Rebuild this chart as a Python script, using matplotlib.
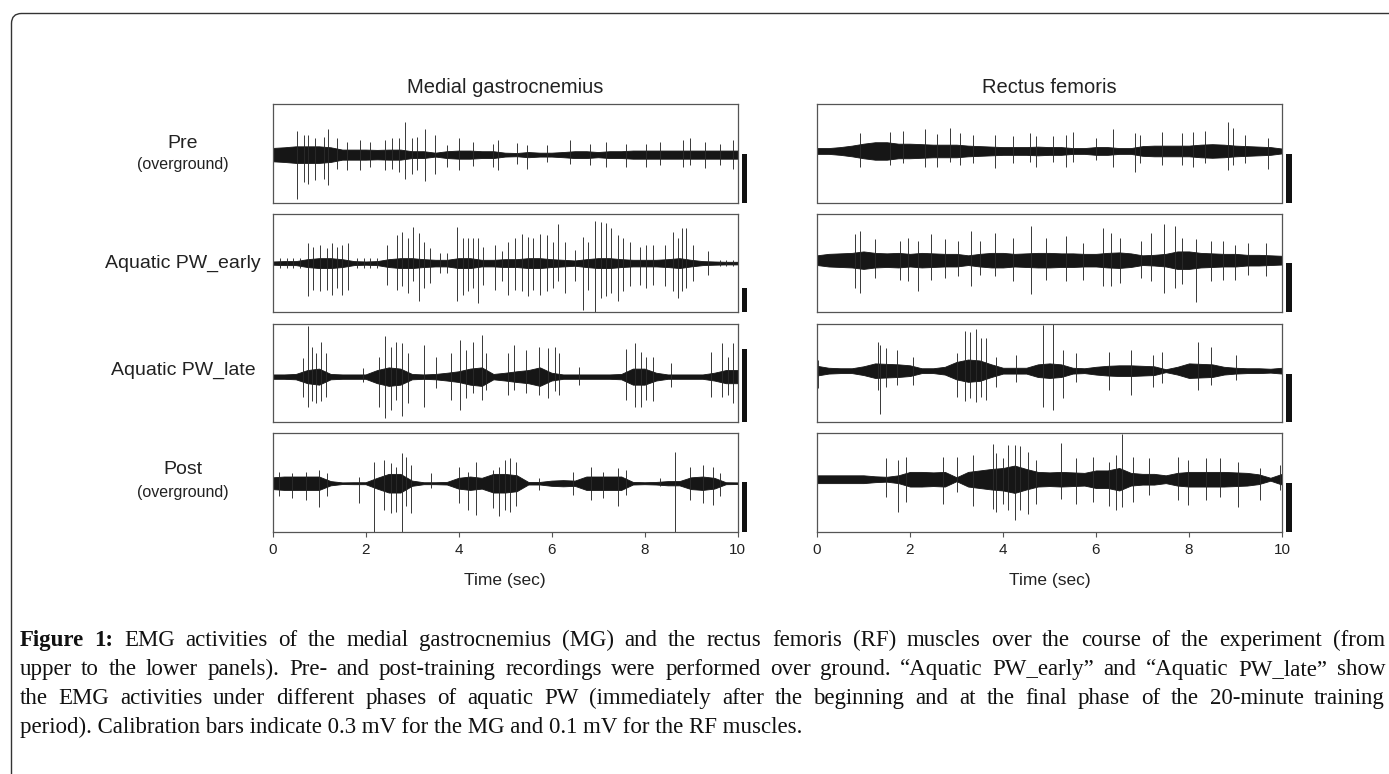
import numpy as np
import matplotlib
matplotlib.use("Agg")
import matplotlib.pyplot as plt
from matplotlib.patches import FancyBboxPatch, Rectangle
from matplotlib.transforms import IdentityTransform, blended_transform_factory

# ---------------- datos (mV) ----------------
# envolvente del nucleo denso, muestreada cada 0.25 s (0 ... 10 s)
env_t = np.arange(0, 10.01, 0.25)

mg_pre_env = [0.041, 0.045, 0.051, 0.051, 0.051, 0.045, 0.031, 0.031, 0.031, 0.029, 0.031, 0.031, 0.021, 0.021,
              0.012, 0.021, 0.025, 0.025, 0.021, 0.021, 0.012, 0.010, 0.016, 0.012, 0.012, 0.016, 0.021, 0.021,
              0.016, 0.021, 0.021, 0.025, 0.025, 0.025, 0.025, 0.025, 0.025, 0.025, 0.025, 0.025, 0.025]
mg_early_env = [0.021, 0.026, 0.026, 0.051, 0.064, 0.064, 0.051, 0.026, 0.021, 0.026, 0.051, 0.064, 0.064, 0.051,
                0.043, 0.043, 0.064, 0.064, 0.043, 0.043, 0.051, 0.051, 0.064, 0.064, 0.051, 0.043, 0.034, 0.051,
                0.064, 0.064, 0.051, 0.043, 0.043, 0.043, 0.051, 0.064, 0.043, 0.026, 0.021, 0.017, 0.017]
mg_late_env = [0.009, 0.009, 0.011, 0.027, 0.033, 0.011, 0.009, 0.009, 0.009, 0.027, 0.038, 0.033, 0.011, 0.009,
               0.011, 0.016, 0.022, 0.033, 0.038, 0.011, 0.016, 0.022, 0.027, 0.038, 0.016, 0.009, 0.009, 0.009,
               0.009, 0.009, 0.011, 0.033, 0.033, 0.016, 0.009, 0.009, 0.009, 0.009, 0.016, 0.027, 0.027]
mg_post_env = [0.036, 0.041, 0.041, 0.041, 0.041, 0.013, 0.005, 0.006, 0.006, 0.033, 0.057, 0.057, 0.016, 0.006,
               0.006, 0.008, 0.033, 0.041, 0.033, 0.057, 0.057, 0.049, 0.008, 0.008, 0.016, 0.019, 0.016, 0.041,
               0.041, 0.041, 0.041, 0.008, 0.006, 0.008, 0.013, 0.013, 0.036, 0.041, 0.033, 0.006, 0.005]
rf_pre_env = [0.006, 0.006, 0.008, 0.011, 0.015, 0.018, 0.018, 0.015, 0.015, 0.014, 0.013, 0.013, 0.013, 0.011,
              0.010, 0.009, 0.008, 0.008, 0.008, 0.009, 0.008, 0.008, 0.006, 0.006, 0.008, 0.008, 0.006, 0.006,
              0.010, 0.011, 0.011, 0.011, 0.011, 0.013, 0.014, 0.013, 0.011, 0.010, 0.009, 0.008, 0.005]
rf_early_env = [0.010, 0.013, 0.014, 0.015, 0.018, 0.015, 0.014, 0.015, 0.013, 0.015, 0.014, 0.013, 0.013, 0.010,
                0.013, 0.015, 0.015, 0.013, 0.014, 0.015, 0.015, 0.014, 0.014, 0.013, 0.013, 0.015, 0.016, 0.014,
                0.010, 0.011, 0.013, 0.018, 0.018, 0.015, 0.014, 0.013, 0.013, 0.011, 0.011, 0.010, 0.009]
rf_late_env = [0.010, 0.006, 0.005, 0.005, 0.009, 0.015, 0.014, 0.013, 0.011, 0.005, 0.005, 0.008, 0.018, 0.023,
               0.021, 0.013, 0.006, 0.006, 0.006, 0.013, 0.015, 0.013, 0.006, 0.005, 0.008, 0.010, 0.011, 0.011,
               0.010, 0.009, 0.003, 0.008, 0.015, 0.014, 0.013, 0.008, 0.006, 0.005, 0.005, 0.004, 0.006]
rf_post_env = [0.008, 0.008, 0.008, 0.008, 0.008, 0.006, 0.005, 0.008, 0.015, 0.015, 0.014, 0.015, 0.004, 0.015,
               0.018, 0.021, 0.023, 0.028, 0.021, 0.015, 0.014, 0.015, 0.014, 0.013, 0.018, 0.018, 0.023, 0.013,
               0.011, 0.011, 0.008, 0.013, 0.015, 0.015, 0.015, 0.015, 0.014, 0.013, 0.010, 0.003, 0.011]

# picos visibles: (tiempo s, amplitud arriba mV, amplitud abajo mV)
mg_pre_spikes = [(0.52, 0.144, 0.272), (0.67, 0.123, 0.169), (0.77, 0.119, 0.179), (0.92, 0.099, 0.158),
                 (1.10, 0.109, 0.148), (1.20, 0.160, 0.185), (1.38, 0.099, 0.086), (1.60, 0.078, 0.097),
                 (1.88, 0.088, 0.097), (2.10, 0.078, 0.076), (2.42, 0.088, 0.097), (2.56, 0.099, 0.086),
                 (2.71, 0.099, 0.107), (2.85, 0.198, 0.148), (2.99, 0.099, 0.117), (3.10, 0.109, 0.097),
                 (3.28, 0.160, 0.165), (3.50, 0.123, 0.117), (3.75, 0.058, 0.076), (4.00, 0.099, 0.097),
                 (4.32, 0.078, 0.070), (4.75, 0.068, 0.076), (4.86, 0.088, 0.097), (5.25, 0.074, 0.056),
                 (5.47, 0.062, 0.086), (5.90, 0.058, 0.045), (6.40, 0.088, 0.056), (6.83, 0.068, 0.066),
                 (7.18, 0.078, 0.076), (7.61, 0.068, 0.076), (8.04, 0.068, 0.076), (8.33, 0.078, 0.066),
                 (8.83, 0.088, 0.076), (8.98, 0.099, 0.066), (9.30, 0.078, 0.082), (9.62, 0.068, 0.066),
                 (9.91, 0.088, 0.086)]
mg_early_spikes = [(0.16, 0.064, 0.064), (0.31, 0.064, 0.064), (0.45, 0.064, 0.064), (0.59, 0.064, 0.064),
                   (0.77, 0.256, 0.427), (0.88, 0.214, 0.342), (1.02, 0.235, 0.363), (1.17, 0.192, 0.342),
                   (1.28, 0.256, 0.406), (1.38, 0.214, 0.321), (1.49, 0.235, 0.406), (1.63, 0.256, 0.342),
                   (1.81, 0.064, 0.064), (1.96, 0.064, 0.064), (2.10, 0.064, 0.064), (2.24, 0.064, 0.064),
                   (2.46, 0.235, 0.278), (2.67, 0.363, 0.342), (2.78, 0.406, 0.299), (2.92, 0.321, 0.385),
                   (3.03, 0.470, 0.235), (3.14, 0.385, 0.491), (3.25, 0.278, 0.321), (3.39, 0.192, 0.256),
                   (3.60, 0.128, 0.128), (3.75, 0.128, 0.128), (3.96, 0.470, 0.491), (4.10, 0.321, 0.406),
                   (4.21, 0.321, 0.363), (4.32, 0.321, 0.321), (4.43, 0.321, 0.513), (4.53, 0.214, 0.278),
                   (4.79, 0.235, 0.342), (4.93, 0.150, 0.235), (5.07, 0.278, 0.406), (5.21, 0.321, 0.342),
                   (5.36, 0.372, 0.363), (5.50, 0.342, 0.427), (5.61, 0.321, 0.342), (5.75, 0.372, 0.406),
                   (5.90, 0.363, 0.363), (6.04, 0.278, 0.321), (6.13, 0.500, 0.235), (6.29, 0.278, 0.385),
                   (6.50, 0.171, 0.235), (6.67, 0.342, 0.611), (6.79, 0.278, 0.342), (6.93, 0.543, 0.628),
                   (7.06, 0.526, 0.449), (7.18, 0.513, 0.427), (7.29, 0.449, 0.385), (7.44, 0.363, 0.491),
                   (7.54, 0.321, 0.363), (7.69, 0.278, 0.299), (7.90, 0.214, 0.278), (8.04, 0.235, 0.321),
                   (8.19, 0.235, 0.278), (8.44, 0.235, 0.299), (8.62, 0.406, 0.363), (8.72, 0.321, 0.449),
                   (8.80, 0.449, 0.363), (8.90, 0.449, 0.321), (9.05, 0.235, 0.235), (9.37, 0.150, 0.150),
                   (9.62, 0.043, 0.043), (9.76, 0.043, 0.043), (9.91, 0.043, 0.043)]
mg_late_spikes = [(0.65, 0.075, 0.082), (0.77, 0.208, 0.123), (0.86, 0.123, 0.102), (0.93, 0.096, 0.109),
                  (1.04, 0.143, 0.102), (1.15, 0.096, 0.082), (1.94, 0.034, 0.020), (2.30, 0.082, 0.123),
                  (2.43, 0.167, 0.171), (2.55, 0.123, 0.137), (2.66, 0.143, 0.096), (2.79, 0.139, 0.161),
                  (2.91, 0.096, 0.109), (3.25, 0.130, 0.123), (3.52, 0.082, 0.048), (3.84, 0.096, 0.096),
                  (4.04, 0.150, 0.137), (4.16, 0.109, 0.089), (4.31, 0.143, 0.068), (4.51, 0.171, 0.096),
                  (4.59, 0.096, 0.055), (5.06, 0.096, 0.075), (5.20, 0.130, 0.055), (5.46, 0.109, 0.068),
                  (5.74, 0.123, 0.075), (5.92, 0.116, 0.089), (6.07, 0.123, 0.061), (6.17, 0.096, 0.075),
                  (6.60, 0.041, 0.034), (7.61, 0.112, 0.096), (7.79, 0.137, 0.123), (7.93, 0.102, 0.123),
                  (8.04, 0.082, 0.096), (8.18, 0.082, 0.102), (8.58, 0.055, 0.041), (9.44, 0.102, 0.082),
                  (9.66, 0.137, 0.082), (9.80, 0.082, 0.075), (9.91, 0.139, 0.109)]
mg_post_spikes = [(0.14, 0.071, 0.081), (0.43, 0.061, 0.091), (0.72, 0.071, 0.102), (0.99, 0.081, 0.146),
                  (1.18, 0.061, 0.081), (1.85, 0.041, 0.118), (2.19, 0.132, 0.295), (2.40, 0.142, 0.163),
                  (2.55, 0.122, 0.183), (2.66, 0.102, 0.173), (2.78, 0.187, 0.295), (2.87, 0.163, 0.142),
                  (2.98, 0.112, 0.183), (3.41, 0.061, 0.030), (4.02, 0.102, 0.122), (4.20, 0.071, 0.163),
                  (4.38, 0.132, 0.193), (4.74, 0.081, 0.152), (4.88, 0.102, 0.203), (4.99, 0.142, 0.163),
                  (5.11, 0.152, 0.173), (5.24, 0.132, 0.142), (5.74, 0.030, 0.041), (6.46, 0.071, 0.071),
                  (6.86, 0.102, 0.102), (7.11, 0.071, 0.091), (7.43, 0.091, 0.142), (7.60, 0.081, 0.071),
                  (8.33, 0.030, 0.020), (8.66, 0.193, 0.295), (8.97, 0.102, 0.102), (9.26, 0.112, 0.122),
                  (9.48, 0.102, 0.132), (9.62, 0.061, 0.081)]
rf_pre_spikes = [(0.92, 0.036, 0.032), (1.56, 0.040, 0.029), (1.85, 0.041, 0.025), (2.32, 0.045, 0.032),
                 (2.57, 0.034, 0.034), (2.85, 0.047, 0.022), (3.07, 0.036, 0.029), (3.35, 0.033, 0.025),
                 (3.82, 0.033, 0.036), (4.22, 0.030, 0.025), (4.57, 0.036, 0.022), (4.72, 0.030, 0.034),
                 (5.08, 0.030, 0.022), (5.36, 0.033, 0.032), (5.51, 0.038, 0.022), (6.01, 0.026, 0.019),
                 (6.37, 0.045, 0.032), (6.83, 0.036, 0.044), (6.94, 0.033, 0.025), (7.41, 0.038, 0.029),
                 (7.84, 0.036, 0.029), (8.09, 0.040, 0.032), (8.34, 0.041, 0.025), (8.84, 0.059, 0.039),
                 (8.95, 0.047, 0.029), (9.20, 0.033, 0.025), (9.70, 0.027, 0.037)]
rf_early_spikes = [(0.81, 0.053, 0.057), (0.92, 0.060, 0.067), (1.24, 0.043, 0.036), (1.78, 0.039, 0.040),
                   (1.96, 0.046, 0.043), (2.17, 0.039, 0.064), (2.46, 0.053, 0.040), (2.75, 0.043, 0.036),
                   (3.03, 0.039, 0.033), (3.32, 0.060, 0.054), (3.50, 0.039, 0.030), (3.82, 0.056, 0.033),
                   (4.22, 0.046, 0.043), (4.61, 0.070, 0.069), (4.93, 0.046, 0.040), (5.36, 0.049, 0.043),
                   (5.72, 0.036, 0.040), (6.15, 0.067, 0.054), (6.33, 0.056, 0.054), (6.51, 0.046, 0.047),
                   (6.97, 0.039, 0.036), (7.19, 0.056, 0.043), (7.46, 0.075, 0.067), (7.69, 0.070, 0.057),
                   (7.84, 0.046, 0.050), (8.16, 0.043, 0.086), (8.48, 0.039, 0.043), (8.73, 0.039, 0.040),
                   (8.98, 0.032, 0.040), (9.27, 0.036, 0.030), (9.66, 0.036, 0.033)]
rf_late_spikes = [(0.02, 0.022, 0.036), (1.31, 0.058, 0.040), (1.35, 0.053, 0.089), (1.49, 0.046, 0.033),
                  (1.71, 0.043, 0.030), (2.06, 0.029, 0.030), (3.00, 0.036, 0.054), (3.18, 0.082, 0.062),
                  (3.28, 0.080, 0.057), (3.41, 0.085, 0.064), (3.53, 0.067, 0.054), (3.64, 0.067, 0.060),
                  (3.86, 0.029, 0.033), (4.29, 0.032, 0.023), (4.85, 0.094, 0.074), (5.08, 0.099, 0.081),
                  (5.29, 0.043, 0.057), (5.58, 0.036, 0.023), (6.29, 0.039, 0.040), (6.76, 0.043, 0.050),
                  (7.23, 0.032, 0.033), (7.41, 0.039, 0.026), (8.19, 0.060, 0.040), (8.48, 0.049, 0.030),
                  (9.02, 0.032, 0.019)]
rf_post_spikes = [(1.49, 0.043, 0.036), (1.74, 0.039, 0.067), (1.92, 0.046, 0.047), (2.71, 0.046, 0.050),
                  (3.00, 0.046, 0.026), (3.35, 0.049, 0.054), (3.78, 0.072, 0.060), (3.86, 0.053, 0.067),
                  (4.00, 0.043, 0.050), (4.11, 0.070, 0.064), (4.26, 0.070, 0.083), (4.37, 0.067, 0.064),
                  (4.54, 0.056, 0.071), (4.72, 0.039, 0.050), (5.25, 0.075, 0.040), (5.58, 0.043, 0.050),
                  (5.94, 0.046, 0.047), (6.29, 0.036, 0.054), (6.44, 0.049, 0.064), (6.55, 0.093, 0.057),
                  (6.80, 0.046, 0.047), (7.15, 0.043, 0.033), (7.76, 0.046, 0.043), (7.97, 0.039, 0.052),
                  (8.37, 0.043, 0.043), (8.66, 0.043, 0.036), (9.05, 0.036, 0.057), (9.52, 0.022, 0.043),
                  (9.95, 0.029, 0.023)]

muscles = ["Medial gastrocnemius", "Rectus femoris"]
conditions = [("Pre", "(overground)"), ("Aquatic PW_early", None), ("Aquatic PW_late", None), ("Post", "(overground)")]
cal_mv = [0.3, 0.1]           # barras de calibracion MG / RF
x_ticks = [0, 2, 4, 6, 8, 10]

envs = [[mg_pre_env, mg_early_env, mg_late_env, mg_post_env],
        [rf_pre_env, rf_early_env, rf_late_env, rf_post_env]]
spikes = [[mg_pre_spikes, mg_early_spikes, mg_late_spikes, mg_post_spikes],
          [rf_pre_spikes, rf_early_spikes, rf_late_spikes, rf_post_spikes]]

# rango vertical de cada panel (mV), distinto por la ganancia de cada registro
ylims = [[(-0.294, 0.309), (-0.628, 0.641), (-0.187, 0.216), (-0.295, 0.305)],
         [(-0.106, 0.096), (-0.106, 0.096), (-0.106, 0.096), (-0.107, 0.094)]]

# ---------------- figura ----------------
W, H = 1389, 774
fig = plt.figure(figsize=(W / 100, H / 100), dpi=100)
fig.patch.set_facecolor("white")

SANS = "Liberation Sans"
SERIF = "Liberation Serif"
TXT = "#222222"
FRAME = "#555555"
TRACE = "#161616"

col_left = [272.5, 817.0]
col_w = 465.0
row_top = [104.3, 213.5, 324.0, 433.3]
row_h = 98.2

for c in range(2):
    for r in range(4):
        ax = fig.add_axes([col_left[c] / W, 1 - (row_top[r] + row_h) / H, col_w / W, row_h / H])
        env = np.array(envs[c][r])
        ax.fill_between(env_t, -env, env, color=TRACE, lw=0.6)
        ax.plot(env_t, np.zeros_like(env_t), color=TRACE, lw=0.8)
        sp = np.array(spikes[c][r])
        ax.vlines(sp[:, 0], -sp[:, 2], sp[:, 1], color="#2a2a2a", lw=0.65)
        ax.set_xlim(0, 10)
        ax.set_ylim(*ylims[c][r])
        ax.set_yticks([])
        for s in ax.spines.values():
            s.set_color(FRAME)
            s.set_linewidth(0.9)
        if r == 3:
            ax.set_xticks(x_ticks)
            ax.set_xticklabels([str(v) for v in x_ticks], fontsize=11, family=SANS, color=TXT)
            ax.tick_params(axis="x", length=3.5, width=0.8, color=FRAME, pad=4.5)
        else:
            ax.set_xticks([])

        # barra de calibracion a la derecha del panel
        tr = blended_transform_factory(ax.transAxes, ax.transData)
        ax.add_patch(Rectangle((1.009, ylims[c][r][0]), 0.012, cal_mv[c], transform=tr,
                               color="#111111", clip_on=False, lw=0))

# titulos de columna y eje de tiempo
px = IdentityTransform()
for c, name in enumerate(muscles):
    cx = col_left[c] + col_w / 2
    fig.text(cx, H - 93.3, name, transform=px, ha="center", va="baseline",
             fontsize=14.5, family=SANS, color=TXT)
    fig.text(cx, H - 580, "Time (sec)", transform=px, ha="center", va="center",
             fontsize=12.5, family=SANS, color=TXT)

# etiquetas de fila
label_y = [(143, 165), (263, None), (370, None), (470, 493)]
for (main, sub), (y1, y2) in zip(conditions, label_y):
    fig.text(183, H - y1, main, transform=px, ha="center", va="center",
             fontsize=14, family=SANS, color=TXT)
    if sub:
        fig.text(183, H - y2, sub, transform=px, ha="center", va="center",
                 fontsize=11.5, family=SANS, color=TXT)

# marco redondeado del recuadro
fig.add_artist(FancyBboxPatch((11.5, -30), 1420, H - 13.5 + 30, transform=px,
                              boxstyle="round,pad=0,rounding_size=10",
                              fc="none", ec="#333333", lw=1.0, clip_on=False))

# leyenda de la figura (texto justificado)
caption = [
    "Figure 1: EMG activities of the medial gastrocnemius (MG) and the rectus femoris (RF) muscles over the course of the experiment (from",
    "upper to the lower panels). Pre- and post-training recordings were performed over ground. \u201cAquatic PW_early\u201d and \u201cAquatic PW_late\u201d show",
    "the EMG activities under different phases of aquatic PW (immediately after the beginning and at the final phase of the 20-minute training",
    "period). Calibration bars indicate 0.3 mV for the MG and 0.1 mV for the RF muscles.",
]
cap_base = [646.0, 675.0, 704.0, 733.0]
cap_x0, cap_x1 = 19.5, 1385.0
cap_size = 16.5
renderer = fig.canvas.get_renderer()

for i, (line, yb) in enumerate(zip(caption, cap_base)):
    if i == len(caption) - 1:
        fig.text(cap_x0, H - yb, line, transform=px, va="baseline", fontsize=cap_size, family=SERIF,
                 color="#111111")
        continue
    words = line.split(" ")
    arts = []
    for j, w in enumerate(words):
        bold = (i == 0 and j < 2)
        arts.append(fig.text(0, H - yb, w, transform=px, va="baseline", fontsize=cap_size, family=SERIF,
                             fontweight="bold" if bold else "normal", color="#111111"))
    widths = [a.get_window_extent(renderer).width for a in arts]
    gap = (cap_x1 - cap_x0 - sum(widths)) / (len(arts) - 1)
    x = cap_x0
    for a, wd in zip(arts, widths):
        a.set_x(x)
        x += wd + gap

fig.savefig("out.png", dpi=100, facecolor="white")
plt.close(fig)
